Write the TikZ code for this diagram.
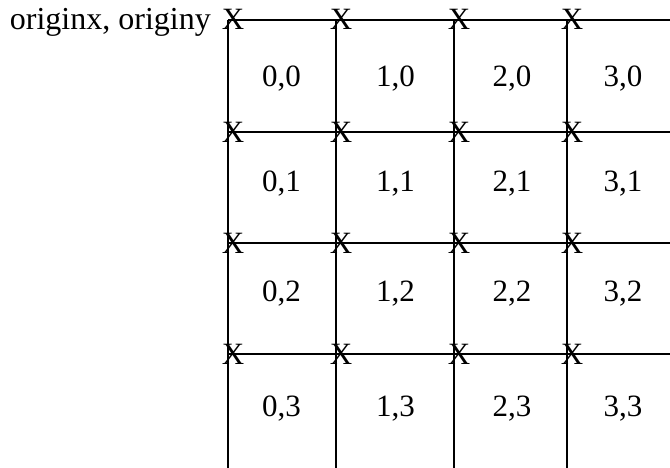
\documentclass[tikz,border=0pt]{standalone}
\usepackage{fontspec}
\setmainfont{Liberation Serif}
\begin{document}
\begin{tikzpicture}[x=1pt,y=-1pt,
  gridline/.style={line width=2pt,black},
  xmark/.style={inner sep=0pt,anchor=base,font=\fontsize{31}{36}\selectfont},
  celllabel/.style={inner sep=0pt,anchor=base,font=\fontsize{31}{36}\selectfont},
  origintext/.style={inner sep=0pt,anchor=base east,font=\fontsize{32}{38}\selectfont}]
\useasboundingbox (0,0) rectangle (670,468);
% column and row positions
\def\colxs{228,336,454,567}
\def\rowys{20,132.5,243.5,354}
% line end points
\foreach \xx [count=\i from 0] in \colxs {
  \coordinate (v\i s) at (\xx,20);
  \coordinate (v\i e) at (\xx,468);
}
\foreach \yy [count=\j from 0] in \rowys {
  \coordinate (h\j s) at (228,\yy);
  \coordinate (h\j e) at (670,\yy);
}
\foreach \i in {0,...,3} {
  \draw[gridline] (v\i s) -- (v\i e);
  \draw[gridline] (h\i s) -- (h\i e);
}
% X marks at intersections
\foreach \xx [count=\i from 0] in \colxs {
  \foreach \yy [count=\j from 0] in \rowys {
    \node[xmark] (x\i\j) at (\xx+5,\yy+10) {X};
  }
}
% cell labels
\foreach \cx [count=\i from 0] in {281.5,395.5,512,623} {
  \foreach \by [count=\j from 0] in {86.5,191.7,301.7,416.7} {
    \node[celllabel] (c\i\j) at (\cx,\by) {\i,\j};
  }
}
\node[origintext] (origin) at (211,30) {originx, originy};
\end{tikzpicture}
\end{document}
